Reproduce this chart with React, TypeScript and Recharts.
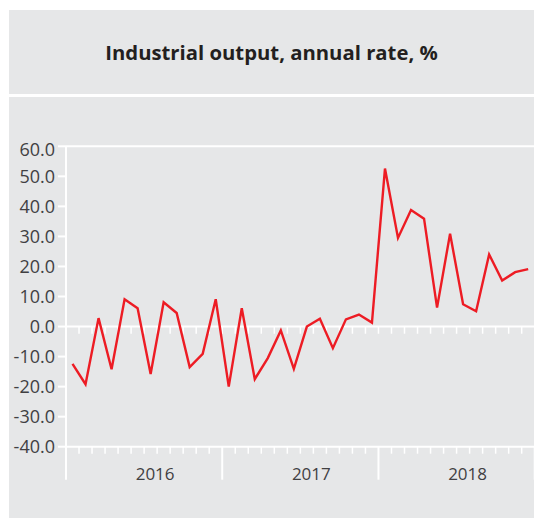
import React from 'react';
import { LineChart, Line, XAxis, YAxis, ReferenceLine } from 'recharts';

const years = ['2016', '2017', '2018'];
const output2016 = [-12.4, -19.2, 2.8, -14.2, 9.1, 6.1, -15.8, 8.1, 4.5, -13.5, -9.1, 9.1];
const output2017 = [-20.0, 6.1, -17.5, -10.5, -1.3, -14.1, 0.0, 2.6, -7.2, 2.4, 4.0, 1.3];
const output2018 = [52.6, 29.5, 38.8, 35.9, 6.3, 30.9, 7.4, 5.1, 24.0, 15.3, 18.1, 19.1];
const yTicks = [-40, -30, -20, -10, 0, 10, 20, 30, 40, 50, 60];

const values = [...output2016, ...output2017, ...output2018];
const data = values.map((v, i) => ({ x: i + 0.5, v }));
const monthTicks = Array.from({ length: values.length + 1 }, (_, i) => i);

const FONT = '"Open Sans", "DejaVu Sans", sans-serif';
const GRAY = '#e6e7e8';

const XTick = (props: any) => {
  const { x, y, payload } = props;
  const i = payload.value as number;
  const isYear = i % 12 === 0;
  const isMid = i % 12 === 6;
  return (
    <g>
      <line x1={x} x2={x} y1={y} y2={y + (isYear ? 33 : 7)} stroke="#fff" strokeWidth={isYear ? 2 : 1.5} />
      {isMid ? (
        <text x={x + 11} y={y + 33} textAnchor="middle" fill="#414042" fontSize={17} fontFamily={FONT}>
          {years[Math.floor(i / 12)]}
        </text>
      ) : null}
    </g>
  );
};

const YTick = (props: any) => {
  const { x, y, payload } = props;
  const v = payload.value as number;
  const shift = v === 60 ? 3 : 0;
  return (
    <text x={x} y={y + shift} dy="0.355em" textAnchor="end" fill="#414042" fontSize={18} fontFamily={FONT}>
      {v.toFixed(1)}
    </text>
  );
};

export default function App() {
  return (
    <div style={{ position: 'absolute', left: 0, top: 0, width: 534, height: 518, overflow: 'hidden', background: '#fff' }}>
      <div
        style={{
          position: 'absolute', left: 9, top: 10, width: 525, height: 84, background: GRAY,
          display: 'flex', alignItems: 'center', justifyContent: 'center',
          fontFamily: FONT, fontWeight: 700, fontSize: 20.3, color: '#231f20',
        }}
      >
        Industrial output, annual rate, %
      </div>
      <div style={{ position: 'absolute', left: 9, top: 97, width: 525, height: 421, background: GRAY }} />
      <div style={{ position: 'absolute', left: 0, top: 0 }}>
        <LineChart width={540} height={518} data={data} margin={{ top: 146.3, right: 5.3, bottom: 31.3, left: 0 }}>
          <XAxis
            dataKey="x"
            type="number"
            domain={[0, 36]}
            ticks={monthTicks}
            interval={0}
            tickSize={0}
            tickMargin={0}
            tickLine={false}
            axisLine={{ stroke: '#fff', strokeWidth: 2 }}
            tick={<XTick />}
            height={40}
          />
          <YAxis
            type="number"
            domain={[-40, 60]}
            ticks={yTicks}
            interval={0}
            width={66}
            tickSize={8}
            tickMargin={3}
            tickLine={{ stroke: '#fff', strokeWidth: 2 }}
            axisLine={{ stroke: '#fff', strokeWidth: 2 }}
            tick={<YTick />}
          />
          <ReferenceLine y={60} stroke="#fff" strokeWidth={2} />
          <ReferenceLine y={0} stroke="#fff" strokeWidth={2} />
          {monthTicks.slice(1, -1).map((i) => (
            <ReferenceLine key={i} segment={[{ x: i, y: 0 }, { x: i, y: -2.4 }]} stroke="#fff" strokeWidth={1.5} />
          ))}
          <Line
            type="linear"
            dataKey="v"
            stroke="#ed1c24"
            strokeWidth={2.4}
            dot={false}
            isAnimationActive={false}
          />
        </LineChart>
      </div>
    </div>
  );
}
